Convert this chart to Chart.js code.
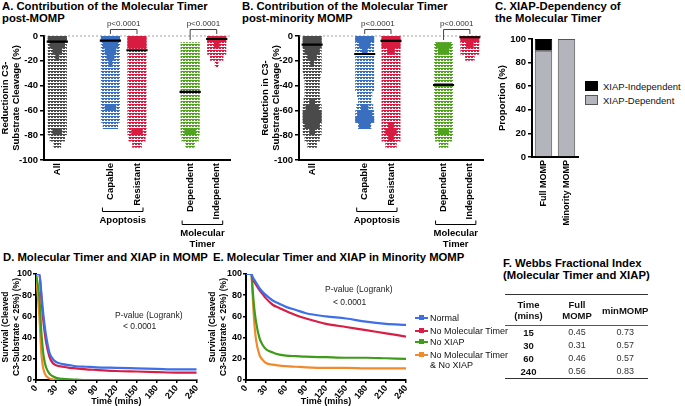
<!DOCTYPE html>
<html>
<head>
<meta charset="utf-8">
<script src="https://cdn.jsdelivr.net/npm/chart.js@4.4.0/dist/chart.umd.min.js"></script>
<style>
  body { margin: 0; background: #fff; width: 685px; height: 406px; position: relative; overflow: hidden;
         font-family: "Liberation Sans", Arial, sans-serif; color: #000; }
  canvas { position: absolute; }
  .ttl { position: absolute; font-weight: bold; font-size: 11.3px; line-height: 12px; white-space: nowrap; }
  .note { position: absolute; font-size: 8.5px; color: #222; white-space: nowrap; line-height: 10px; }
  .lg { position: absolute; font-size: 9px; white-space: nowrap; line-height: 10px; color: #111; }
  .sw { display: inline-block; width: 13px; height: 10px; vertical-align: -1px; margin-right: 5px; box-sizing: border-box; }
  .ln { position: absolute; left: 0; top: 4px; width: 13px; height: 2px; }
  .mk { position: absolute; left: 4px; top: 2px; width: 5px; height: 5px; }
  #tbl { position: absolute; left: 505px; top: 294px; border-collapse: collapse; font-size: 9px; color: #333;
         border-top: 1.5px solid #333; border-bottom: 1.5px solid #333; }
  #tbl th { font-weight: bold; font-size: 9.5px; line-height: 11px; height: 30px; padding: 0; color: #111;
            border-bottom: 1px solid #555; }
  #tbl td { height: 13px; padding: 0; text-align: center; line-height: 11px; }
  #tbl td.b { font-weight: bold; font-size: 9.5px; color: #111; }
</style>
</head>
<body>
<div class="ttl" style="left:2px;top:0px">A. Contribution of the Molecular Timer<br>post-MOMP</div>
<div class="ttl" style="left:242px;top:0px">B. Contribution of the Molecular Timer<br>post-minority MOMP</div>
<div class="ttl" style="left:495px;top:0px">C. XIAP-Dependency of<br>the Molecular Timer</div>
<div class="ttl" style="left:3px;top:251px">D. Molecular Timer and XIAP in MOMP</div>
<div class="ttl" style="left:213px;top:251px">E. Molecular Timer and XIAP in Minority MOMP</div>
<div class="ttl" style="left:503px;top:257px">F. Webbs Fractional Index<br>(Molecular Timer and XIAP)</div>

<canvas id="chartA" width="238" height="232" style="left:0px;top:20px"></canvas>
<canvas id="chartB" width="236" height="232" style="left:255px;top:20px"></canvas>
<canvas id="chartC" width="88" height="215" style="left:495px;top:20px"></canvas>
<canvas id="chartD" width="205" height="143" style="left:0px;top:265px"></canvas>
<canvas id="chartE" width="210" height="143" style="left:205px;top:265px"></canvas>

<div class="lg" style="left:585px;top:81px;font-size:9.5px"><span class="sw" style="background:#000"></span>XIAP-Independent</div>
<div class="lg" style="left:585px;top:95px;font-size:9.5px"><span class="sw" style="background:#b4b4bc;border:1px solid #555"></span>XIAP-Dependent</div>

<div class="note" style="left:115px;top:310px">P-value (Logrank)</div>
<div class="note" style="left:123px;top:321px">&lt; 0.0001</div>
<div class="note" style="left:325px;top:284px">P-value (Logrank)</div>
<div class="note" style="left:333px;top:297px">&lt; 0.0001</div>

<div id="legE"></div>

<table id="tbl">
  <tr><th style="width:47px">Time<br>(mins)</th><th style="width:50px">Full<br>MOMP</th><th style="width:46px">minMOMP</th></tr>
  <tr><td class="b">15</td><td>0.45</td><td>0.73</td></tr>
  <tr><td class="b">30</td><td>0.31</td><td>0.57</td></tr>
  <tr><td class="b">60</td><td>0.46</td><td>0.57</td></tr>
  <tr><td class="b">240</td><td>0.56</td><td>0.83</td></tr>
</table>

<script>
Chart.defaults.font.family = "'Liberation Sans', Arial, sans-serif";
Chart.defaults.color = '#000';
Chart.defaults.animation = false;

// ---- panels A & B: dot plots ----
const groupNames = ['All', 'Capable', 'Resistant', 'Dependent', 'Independent'];
const groupPos = [0.5, 2.5, 3.5, 5.5, 6.5];
const groupColors = ['#4a4a4a', '#3a6fbf', '#d81b40', '#4fa31f', '#d81b40'];
// centre of each 5% band of dots
const swarmLevels = [-2.5, -7.5, -12.5, -17.5, -22.5, -27.5, -32.5, -37.5, -42.5,
                     -47.5, -52.5, -57.5, -62.5, -67.5, -72.5, -77.5, -82.5, -87.5];

// spread = width of dot rows (0-10), core = width of solid packed dots (0-10)
const spreadA = [
  [10,10,10,10,10,10,10,10,10,10,10,10,10,10,10,10,8,4],
  [10,10,10,10,10,10,10,10,10,10,10,10,10,10,8,0,0,0],
  [10,10,10,10,10,10,10,10,10,10,10,10,10,10,10,10,9,5],
  [0,10,10,10,10,10,10,10,10,10,10,10,10,10,10,10,9,5],
  [10,10,10,7,2,0,0,0,0,0,0,0,0,0,0,0,0,0]
];
const coreA = [
  [10,8,5,2,0,0,0,0,0,0,0,0,0,0,0,5,0,0],
  [10,8,6,4,2,0,0,0,0,0,0,6,0,0,0,0,0,0],
  [10,10,0,0,0,0,0,0,0,0,0,0,0,0,0,6,0,0],
  [0,0,0,0,0,0,0,0,0,0,0,0,0,0,0,6,0,0],
  [10,3,0,0,0,0,0,0,0,0,0,0,0,0,0,0,0,0]
];
const medianA = [-4.6, -3.8, -11.5, -45, -2.4];

const spreadB = [
  [10,10,10,10,10,10,9,8,8,8,9,10,10,10,10,10,8,5],
  [10,10,10,10,10,10,10,10,10,8,7,9,10,10,7,0,0,0],
  [10,10,10,10,10,10,10,10,10,10,10,10,10,10,10,10,10,6],
  [0,10,10,10,10,10,10,10,10,10,10,10,10,10,10,10,9,5],
  [10,10,10,5,0,0,0,0,0,0,0,0,0,0,0,0,0,0]
];
const coreB = [
  [10,10,8,5,2,0,0,0,0,0,3,7,10,10,8,3,0,0],
  [10,6,3,0,0,0,0,0,0,0,0,4,8,10,6,0,0,0],
  [10,10,4,0,0,0,0,0,0,0,0,0,0,0,3,6,3,0],
  [0,8,6,0,0,0,0,0,0,0,0,0,0,0,0,6,0,0],
  [10,4,0,0,0,0,0,0,0,0,0,0,0,0,0,0,0,0]
];
const medianB = [-7, -14.5, -4, -39.5, -1];

const yTicksAB = [0, -20, -40, -60, -80, -100];

// ---- panel C ----
const cLabels = ['Full MOMP', 'Minority MOMP'];
const cDependent = [90, 100];
const cIndependent = [10, 0];

// ---- panels D & E ----
const times = [0, 5, 8, 10, 12, 15, 20, 25, 30, 40, 50, 60, 75, 90, 120, 150, 180, 210, 240];
const seriesNames = ['Normal', 'No Molecular Timer', 'No XIAP', 'No Molecular Timer\n& No XIAP'];
const seriesColors = ['#3d6fea', '#d81e44', '#3d9c18', '#f08a2c'];
const dNormal   = [100, 100, 82, 68, 56, 42, 26, 20, 17, 15, 14, 13, 12.5, 12, 11.5, 11, 10.5, 10, 10];
const dNoTimer  = [100, 100, 78, 62, 50, 36, 22, 16, 14, 12.5, 11.5, 11, 10, 9.5, 8.5, 8, 7.5, 7, 7];
const dNoXiap   = [100, 78, 45, 30, 20, 12, 6, 3.5, 2, 1, 0.5, 0.3, 0, 0, 0, 0, 0, 0, 0];
const dNoBoth   = [100, 60, 25, 14, 8, 4, 1.5, 0.5, 0.2, 0, 0, 0, 0, 0, 0, 0, 0, 0, 0];
const eNormal   = [100, 100, 100, 97, 95, 92, 87, 83, 80, 75, 72, 69, 66, 63, 60, 58, 55, 53, 52];
const eNoTimer  = [100, 100, 100, 96, 93, 90, 85, 81, 77, 71, 68, 65, 61, 58, 53, 50, 47, 44, 41];
const eNoXiap   = [100, 100, 100, 85, 70, 55, 40, 33, 29, 26, 24, 23, 22.5, 22, 21.5, 21, 21, 20.5, 20];
const eNoBoth   = [100, 100, 100, 80, 58, 38, 24, 19, 16, 14.5, 13.5, 13, 12.5, 12, 11.5, 11.5, 11, 11, 11];

// rows of small dots: two coloured pixel rows, one blank row, with a tiny notch
function dotPattern(color) {
    const c = document.createElement('canvas');
    c.width = 3; c.height = 3;
    const g = c.getContext('2d');
    g.fillStyle = color;
    g.fillRect(0, 0, 3, 2);
    g.clearRect(2, 1, 1, 1);
    return g.createPattern(c, 'repeat');
}

function rowSegments(pos, widths, half) {
    const pts = [];
    widths.forEach((w, i) => {
        if (w <= 0) return;
        const hw = half * w / 10;
        pts.push({x: pos - hw, y: swarmLevels[i]}, {x: pos + hw, y: swarmLevels[i]}, {x: pos, y: null});
    });
    return pts;
}

const swarmDecor = {
    id: 'swarmDecor',
    beforeDatasetsDraw(chart) {
        const {ctx, chartArea, scales: {y}} = chart;
        const y0 = y.getPixelForValue(0);
        ctx.save();
        ctx.strokeStyle = '#888';
        ctx.lineWidth = 0.8;
        ctx.setLineDash([2, 2]);
        ctx.beginPath();
        ctx.moveTo(chartArea.left, y0);
        ctx.lineTo(chartArea.right, y0);
        ctx.stroke();
        ctx.restore();
    },
    afterDraw(chart) {
        const {ctx, scales: {x}} = chart;
        const px = (v) => x.getPixelForValue(v);
        ctx.save();
        ctx.strokeStyle = '#444';
        ctx.lineWidth = 1;
        ctx.fillStyle = '#333';
        ctx.textAlign = 'center';
        ctx.textBaseline = 'middle';
        // significance brackets
        ctx.font = "8px 'Liberation Sans', Arial, sans-serif";
        [[1, 2, 14, 14], [3, 4, 20, 14]].forEach(([a, b, la, lb]) => {
            const xa = px(groupPos[a]), xb = px(groupPos[b]);
            ctx.beginPath();
            ctx.moveTo(xa, la); ctx.lineTo(xa, 9.5); ctx.lineTo(xb, 9.5); ctx.lineTo(xb, lb);
            ctx.stroke();
            ctx.fillText('p<0.0001', (xa + xb) / 2, 4);
        });
        // group brackets under the labels
        ctx.strokeStyle = '#000';
        ctx.fillStyle = '#000';
        ctx.font = "bold 9.5px 'Liberation Sans', Arial, sans-serif";
        const groups = [[1, 2, 191.5, ['Apoptosis']], [3, 4, 204.5, ['Molecular', 'Timer']]];
        groups.forEach(([a, b, yb, lines]) => {
            const xa = px(groupPos[a]) - 8, xb = px(groupPos[b]) + 6;
            ctx.beginPath();
            ctx.moveTo(xa, yb - 4); ctx.lineTo(xa, yb); ctx.lineTo(xb, yb); ctx.lineTo(xb, yb - 4);
            ctx.stroke();
            lines.forEach((t, i) => ctx.fillText(t, (xa + xb) / 2, yb + 9 + i * 11));
        });
        ctx.restore();
    }
};

function dotPlot(id, spread, core, medians, yTitle) {
    const half = 0.36;
    const datasets = [];
    datasets.push({
        data: medians.flatMap((m, i) => [{x: groupPos[i] - 0.4, y: m}, {x: groupPos[i] + 0.4, y: m}, {x: groupPos[i], y: null}]),
        borderColor: '#000', borderWidth: 2.2
    });
    groupPos.forEach((p, i) => {
        datasets.push({data: rowSegments(p, core[i], half), borderColor: groupColors[i], borderWidth: 6.3});
    });
    groupPos.forEach((p, i) => {
        datasets.push({data: rowSegments(p, spread[i], half), borderColor: dotPattern(groupColors[i]), borderWidth: 6.3});
    });
    datasets.forEach(d => {
        d.pointRadius = 0;
        d.tension = 0;
        d.spanGaps = false;
        d.fill = false;
        d.borderCapStyle = 'butt';
    });
    new Chart(document.getElementById(id), {
        type: 'line',
        data: {datasets: datasets},
        options: {
            responsive: false,
            events: [],
            layout: {padding: {top: 16, right: 8, left: 0, bottom: 0}},
            scales: {
                x: {
                    type: 'linear', min: 0, max: 7,
                    afterBuildTicks: (s) => { s.ticks = groupPos.map(v => ({value: v})); },
                    ticks: {
                        autoSkip: false, minRotation: 90, maxRotation: 90, padding: 3,
                        font: {weight: 'bold', size: 9.5},
                        callback: (v) => groupNames[groupPos.indexOf(v)] || ''
                    },
                    grid: {display: false, drawTicks: false},
                    border: {color: '#000', width: 2},
                    afterFit: (s) => { s.height = 92; }
                },
                y: {
                    min: -100, max: 0,
                    afterBuildTicks: (s) => { s.ticks = yTicksAB.map(v => ({value: v})); },
                    ticks: {font: {weight: 'bold', size: 9.5}, padding: 2},
                    grid: {drawOnChartArea: false, tickLength: 4, color: '#000', lineWidth: 1.5},
                    border: {color: '#000', width: 2},
                    title: {display: true, text: yTitle, font: {weight: 'bold', size: 9.5, lineHeight: 1.15},
                            padding: {top: id === 'chartA' ? 0 : 5, bottom: 0}},
                    afterFit: (s) => { s.width = 44; }
                }
            },
            plugins: {legend: {display: false}, tooltip: {enabled: false}}
        },
        plugins: [swarmDecor]
    });
}

dotPlot('chartA', spreadA, coreA, medianA, ['Reductionin C3-', 'Substrate Cleavage (%)']);
dotPlot('chartB', spreadB, coreB, medianB, ['Reduction in C3-', 'Substrate Cleavage (%)']);

new Chart(document.getElementById('chartC'), {
    type: 'bar',
    data: {
        labels: cLabels,
        datasets: [
            {label: 'XIAP-Dependent', data: cDependent, backgroundColor: '#b4b4bc', borderColor: '#555', borderWidth: 1},
            {label: 'XIAP-Independent', data: cIndependent, backgroundColor: '#000', borderColor: '#000', borderWidth: 1}
        ]
    },
    options: {
        responsive: false,
        events: [],
        layout: {padding: {top: 19, right: 5, left: 0, bottom: 0}},
        datasets: {bar: {barPercentage: 0.84, categoryPercentage: 0.9}},
        scales: {
            x: {
                stacked: true,
                ticks: {minRotation: 90, maxRotation: 90, padding: 3, font: {weight: 'bold', size: 9}},
                grid: {display: false, drawTicks: false},
                border: {color: '#000', width: 2},
                afterFit: (s) => { s.height = 78; }
            },
            y: {
                stacked: true, min: 0, max: 100,
                ticks: {stepSize: 20, font: {weight: 'bold', size: 9.5}, padding: 2},
                grid: {drawOnChartArea: false, tickLength: 4, color: '#000', lineWidth: 1.5},
                border: {color: '#000', width: 2},
                title: {display: true, text: 'Proportion (%)', font: {weight: 'bold', size: 9.5}, padding: {top: 2, bottom: 0}},
                afterFit: (s) => { s.width = 37; }
            }
        },
        plugins: {legend: {display: false}, tooltip: {enabled: false}}
    }
});

function survival(id, values, yWidth, titlePad, rightPad) {
    new Chart(document.getElementById(id), {
        type: 'line',
        data: {
            datasets: values.map((vals, i) => ({
                label: seriesNames[i],
                data: times.map((t, k) => ({x: t, y: vals[k]})),
                borderColor: seriesColors[i],
                borderWidth: 2.2,
                pointRadius: 0,
                cubicInterpolationMode: 'monotone',
                fill: false
            }))
        },
        options: {
            responsive: false,
            events: [],
            layout: {padding: {top: 9, right: rightPad, left: 0, bottom: 0}},
            scales: {
                x: {
                    type: 'linear', min: 0, max: 240,
                    ticks: {stepSize: 30, font: {weight: 'bold', size: 9}, padding: 0},
                    grid: {drawOnChartArea: false, tickLength: 3, color: '#000', lineWidth: 1.5},
                    border: {color: '#000', width: 2},
                    title: {display: true, text: 'Time (mins)', font: {weight: 'bold', size: 9}, padding: {top: 0, bottom: 1}},
                    afterFit: (s) => { s.height = 28; }
                },
                y: {
                    min: 0, max: 100,
                    ticks: {stepSize: 20, font: {weight: 'bold', size: 9}, padding: 1},
                    grid: {drawOnChartArea: false, tickLength: 3, color: '#000', lineWidth: 1.5},
                    border: {color: '#000', width: 2},
                    title: {display: true, text: ['Survival (Cleaved', 'C3-Substrate < 25%) (%)'],
                            font: {weight: 'bold', size: 8.5, lineHeight: 1.2}, padding: {top: titlePad, bottom: 0}},
                    afterFit: (s) => { s.width = yWidth; }
                }
            },
            plugins: {legend: {display: false}, tooltip: {enabled: false}}
        }
    });
}

survival('chartD', [dNormal, dNoTimer, dNoXiap, dNoBoth], 36, 1, 8);
survival('chartE', [eNormal, eNoTimer, eNoXiap, eNoBoth], 41, 3, 9);

// legend for panel E
const legTops = [313, 326, 337, 350];
const legE = document.getElementById('legE');
seriesNames.forEach((name, i) => {
    const row = document.createElement('div');
    row.className = 'lg';
    row.style.left = '415px';
    row.style.top = legTops[i] + 'px';
    row.innerHTML = '<span class="ln" style="background:' + seriesColors[i] + '"></span>' +
                    '<span class="mk" style="background:' + seriesColors[i] + '"></span>' +
                    '<span style="margin-left:15px;display:inline-block">' + name.replace('\n', '<br>').replace('&', '&amp;') + '</span>';
    legE.appendChild(row);
});
</script>
</body>
</html>
